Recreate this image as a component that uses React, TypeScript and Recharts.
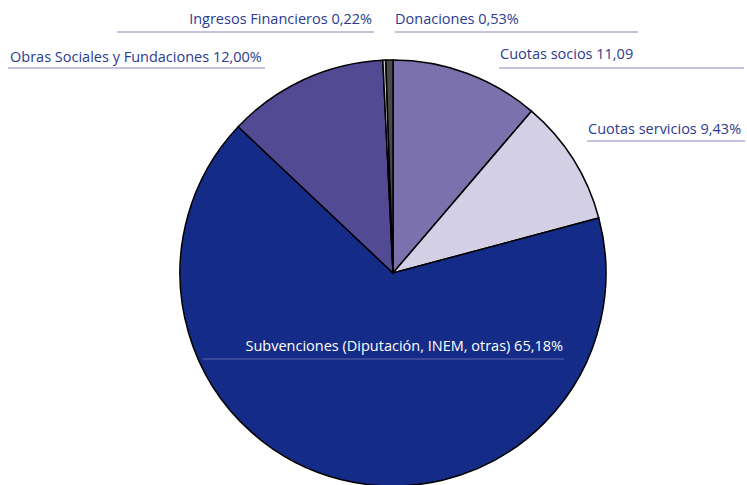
import { PieChart, Pie, Cell } from "recharts";

const categories = [
  "Cuotas socios",
  "Cuotas servicios",
  "Subvenciones (Diputación, INEM, otras)",
  "Obras Sociales y Fundaciones",
  "Ingresos Financieros",
  "Donaciones",
];
const values = [11.09, 9.43, 65.18, 12.0, 0.22, 0.53];
const valueLabels = ["11,09", "9,43%", "65,18%", "12,00%", "0,22%", "0,53%"];
const colors = ["#7b71ad", "#d3d0e6", "#142c87", "#524a93", "#c9c9c9", "#4a4a4a"];

const data = categories.map((name, i) => ({ name, value: values[i] }));

// where each callout sits: text anchor point, underline span
const layout = [
  { x: 500, y: 59, anchor: "start", x1: 499, x2: 744, ly: 68 },
  { x: 588, y: 134, anchor: "start", x1: 587, x2: 745, ly: 141 },
  { x: 563, y: 351, anchor: "end", x1: 203, x2: 564, ly: 359 },
  { x: 10, y: 62, anchor: "start", x1: 8, x2: 265, ly: 68 },
  { x: 372, y: 24, anchor: "end", x1: 117, x2: 374, ly: 32 },
  { x: 395, y: 24, anchor: "start", x1: 395, x2: 638, ly: 32 },
];

const renderLabel = (props: any) => {
  const i = props.index;
  const l = layout[i];
  const inside = i === 2;
  return (
    <g key={"lbl" + i}>
      <line
        x1={l.x1}
        x2={l.x2}
        y1={l.ly}
        y2={l.ly}
        stroke={inside ? "#5d66b0" : "#8a86c0"}
        strokeWidth={1.2}
      />
      <text
        x={l.x}
        y={l.y}
        textAnchor={l.anchor}
        fill={inside ? "#ffffff" : "#2b3a8f"}
        fontSize={14.5}
        fontFamily="'Open Sans', sans-serif"
      >
        {categories[i] + " " + valueLabels[i]}
      </text>
    </g>
  );
};

export default function App() {
  return (
    <div style={{ position: "absolute", left: 0, top: 0, width: 747, height: 485, background: "#fff" }}>
      <PieChart width={747} height={485} margin={{ top: 0, right: 0, bottom: 0, left: 0 }}>
        <Pie
          data={data}
          dataKey="value"
          nameKey="name"
          cx={393}
          cy={273}
          outerRadius={213}
          startAngle={90}
          endAngle={-270}
          stroke="#000"
          strokeWidth={1.5}
          label={renderLabel}
          labelLine={false}
          isAnimationActive={false}
        >
          {data.map((d, i) => (
            <Cell key={d.name} fill={colors[i]} />
          ))}
        </Pie>
      </PieChart>
    </div>
  );
}
